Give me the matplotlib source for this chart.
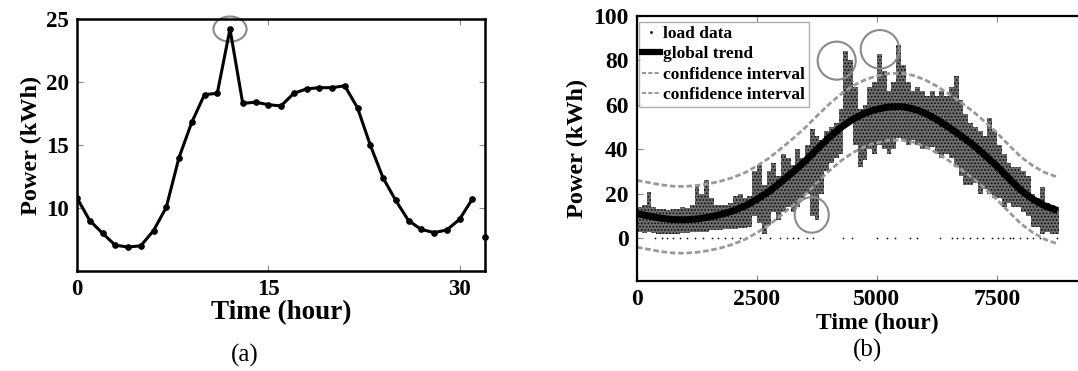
import numpy as np
import matplotlib
matplotlib.use("Agg")
import matplotlib.pyplot as plt
from matplotlib.patches import Ellipse
from matplotlib.lines import Line2D

plt.rcParams['font.family'] = ['Liberation Serif', 'DejaVu Serif']
plt.rcParams['hatch.linewidth'] = 0.8

# (a) one day of hourly load
hours_a = list(range(32))
power_a = [10.8, 9.0, 8.0, 7.05, 6.9, 7.0, 8.2, 10.05, 14.0, 16.8, 19.0, 19.1,
           24.2, 18.3, 18.4, 18.2, 18.1, 19.1, 19.45, 19.55, 19.55, 19.7,
           17.95, 15.0, 12.4, 10.6, 9.0, 8.3, 8.05, 8.25, 9.1, 10.7]

# (b) one year of hourly load, read as low/high envelope per 100 h bin
bin_start = list(range(0, 8800, 100))
load_low = [3, 2.5, 3, 2.5, 2, 2, 2, 2, 2, 2.5, 2.5, 3, 3, 3, 3, 3.5, 3.5, 3.5, 4, 4,
            4, 4.5, 4.5, 5, 10, 7, 2, 6, 12, 8, 12, 14, 12, 14, 18, 20, 10, 8, 20, 30,
            34, 36, 38, 50, 52, 42, 32, 35, 40, 38, 42, 40, 38, 40, 45, 44, 42, 44, 42, 40,
            40, 41, 38, 36, 38, 36, 32, 28, 24, 24, 25, 20, 22, 20, 18, 18, 14, 16, 14, 14,
            12, 10, 5, 5, 2, 3, 2, 2]
load_high = [14, 15, 21, 14, 13, 13, 12.5, 13, 13, 14, 13.5, 15, 24, 20, 26, 18, 15, 15, 15, 16,
             19, 20, 18, 19, 30, 33, 24, 30, 34, 28, 38, 36, 33, 40, 36, 42, 49, 46, 44, 48,
             50, 52, 58, 84, 80, 68, 58, 60, 68, 70, 83, 75, 66, 70, 87, 78, 70, 66, 68, 66,
             64, 66, 64, 66, 64, 68, 73, 62, 56, 52, 50, 48, 46, 54, 48, 42, 38, 34, 32, 32,
             30, 28, 20, 18, 23, 16, 15, 14]
zero_hours = [375, 514, 618, 757, 896, 1035, 1208, 1382, 1556, 1694, 1833, 1972, 2146,
              2562, 2771, 2979, 3118, 3257, 3361, 3535, 3674, 4299, 4472, 4993, 5201,
              5375, 5687, 5826, 6313, 6556, 6660, 6799, 6938, 7076, 7215, 7389, 7528,
              7632, 7771, 7840, 7979, 8118, 8250, 8396, 8743]

trend_hours = [0, 250, 500, 750, 1000, 1250, 1500, 1750, 2000, 2250, 2500, 2750,
               3000, 3250, 3500, 3750, 4000, 4250, 4500, 4750, 5000, 5250, 5500,
               5750, 6000, 6250, 6500, 6750, 7000, 7250, 7500, 7750, 8000, 8250,
               8500, 8760]
trend = [11, 10, 9, 8.4, 8.3, 8.7, 9.5, 10.7, 12.3, 14.5, 17.5, 21, 25.3, 29.8,
         34.6, 40, 45.2, 49.8, 53.5, 56.2, 58, 59, 59.2, 58.2, 56.2, 53.3, 49.8,
         46, 42, 37.3, 32.3, 26.8, 21.5, 17.5, 14.5, 12.5]
ci_upper = [26, 25, 24, 23.4, 23.3, 23.7, 24.5, 25.7, 27.3, 29.5, 32.5, 36, 40.3,
            44.8, 49.6, 55, 60.2, 64.8, 68.5, 71.2, 73, 74, 74.2, 73.2, 71.2, 68.3,
            64.8, 61, 57, 52.3, 47.3, 41.8, 36.5, 32.5, 29.5, 27.5]
ci_lower = [-4, -5, -6, -6.6, -6.7, -6.3, -5.5, -4.3, -2.7, -0.5, 2.5, 6, 10.3,
            14.8, 19.6, 25, 30.2, 34.8, 38.5, 41.2, 43, 44, 44.2, 43.2, 41.2, 38.3,
            34.8, 31, 27, 22.3, 17.3, 11.8, 6.5, 2.5, -0.5, -2.5]

W, H = 1078, 371
fig = plt.figure(figsize=(W / 100, H / 100), dpi=100)

def px_axes(l, t, r, b):
    return fig.add_axes([l / W, 1 - b / H, (r - l) / W, (b - t) / H])

tick_kw = dict(direction='in', length=4, width=0.8, color='#888888',
               top=True, right=True)
bold = dict(fontweight='bold')

# ---- panel (a)
ax1 = px_axes(77, 19, 485, 271)
ax1.plot(hours_a, power_a, color='black', lw=2.2, marker='o', ms=3.8)
ax1.plot([32], [7.7], 'o', color='black', ms=3.8, clip_on=False)
ax1.set_xlim(0, 32)
ax1.set_ylim(5, 25)
ax1.set_xticks([0, 15, 30])
ax1.set_yticks([10, 15, 20, 25])
ax1.tick_params(labelsize=16.5, pad=6, labelcolor='black', **tick_kw)
for lab in ax1.get_xticklabels() + ax1.get_yticklabels():
    lab.set_fontweight('bold')
for s in ax1.spines.values():
    s.set_linewidth(1.8)
ax1.set_xlabel('Time (hour)', fontsize=19.5, labelpad=0, **bold)
ax1.set_ylabel('Power (kWh)', fontsize=17.5, labelpad=3, **bold)
ax1.add_patch(Ellipse((12, 24.2), 2.6, 2.0, fill=False, edgecolor='#8a8a8a',
                      lw=1.5, clip_on=False))
fig.text(245 / W, 1 - 355 / H, '(a)', fontsize=18, ha='center', va='center')

# ---- panel (b)
ax2 = px_axes(637, 15.7, 1100, 281)
ax2.bar(bin_start, np.array(load_high) - np.array(load_low), bottom=load_low,
        width=100, align='edge', facecolor='#6e6e6e', edgecolor='#0a0a0a',
        hatch='.....', linewidth=0)
ax2.scatter(zero_hours, [0] * len(zero_hours), s=1.5, color='black', linewidths=0)
ax2.plot(trend_hours, ci_upper, color='#999999', lw=2, ls=(0, (2, 1)))
ax2.plot(trend_hours, ci_lower, color='#999999', lw=2, ls=(0, (2, 1)))
ax2.plot(trend_hours, trend, color='black', lw=5, solid_capstyle='butt')
ax2.set_xlim(0, 463 / 0.048)
ax2.set_ylim(-19.2, 100)
ax2.set_xticks([0, 2500, 5000, 7500])
ax2.set_yticks([0, 20, 40, 60, 80, 100])
ax2.tick_params(labelsize=17, pad=6, labelcolor='black', **tick_kw)
for lab in ax2.get_xticklabels() + ax2.get_yticklabels():
    lab.set_fontweight('bold')
for s in ax2.spines.values():
    s.set_linewidth(1.6)
ax2.set_ylabel('Power (kWh)', fontsize=17.5, labelpad=4, **bold)
ax2.set_xlabel('Time (hour)', fontsize=17, labelpad=-2, **bold)
ax2.xaxis.set_label_coords((877 - 637) / 463, -0.12)
for (cx, cy, w, h) in [(4160, 79.8, 792, 17.1), (5062, 84.9, 804, 17.3),
                       (3640, 10.5, 710, 16.0)]:
    ax2.add_patch(Ellipse((cx, cy), w, h, fill=False, edgecolor='#8a8a8a', lw=1.5))

handles = [Line2D([], [], ls='none', marker='.', ms=2, color='black'),
           Line2D([], [], color='black', lw=4.5),
           Line2D([], [], color='#999999', lw=1.5, ls=(0, (2, 1))),
           Line2D([], [], color='#999999', lw=1.5, ls=(0, (2, 1)))]
labels = ['load data', 'global trend', 'confidence interval', 'confidence interval']
leg = ax2.legend(handles, labels, loc='upper left', bbox_to_anchor=(0.004, 0.975),
                 prop=dict(family='Liberation Serif', weight='bold', size=12.5),
                 frameon=True, fancybox=False, edgecolor='#999999',
                 handlelength=1.0, handletextpad=0.2, labelspacing=0.25,
                 borderpad=0.2, borderaxespad=0)
leg.get_frame().set_linewidth(1.0)
fig.text(868 / W, 1 - 350 / H, '(b)', fontsize=18, ha='center', va='center')

fig.savefig('out.png', dpi=100)
